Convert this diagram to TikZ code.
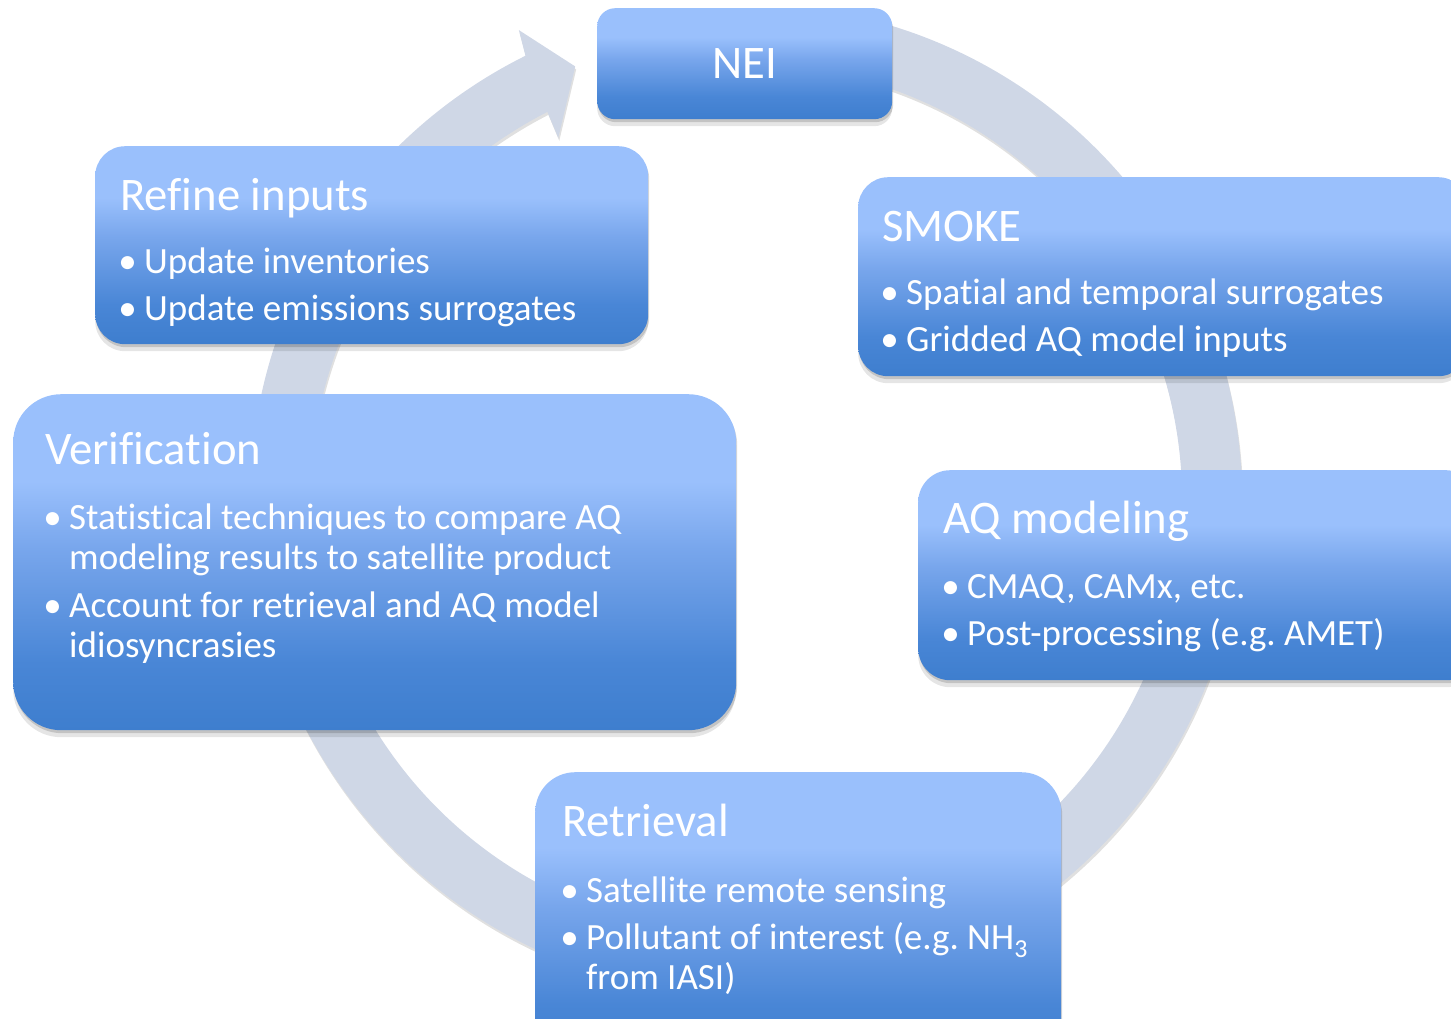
\documentclass[tikz,border=0pt]{standalone}
\usepackage{fontspec}
\setmainfont{Carlito}[Ligatures={NoCommon,NoContextual}, Contextuals=NoAlternate]
\usetikzlibrary{calc,shadows}
\definecolor{bandcol}{HTML}{CFD7E6}
\definecolor{boxtop}{HTML}{9AC0FC}
\definecolor{boxmid}{HTML}{78A6EC}
\definecolor{boxlow}{HTML}{4986D6}
\definecolor{boxbot}{HTML}{3E7ECE}
\pgfdeclareverticalshading{boxshade}{100bp}{color(0bp)=(boxbot); color(25bp)=(boxbot); color(35bp)=(boxlow); color(52bp)=(boxmid); color(62bp)=(boxtop); color(100bp)=(boxtop)}
\newcommand{\bul}[1]{\makebox[15pt][c]{\textbullet}\hspace{9pt}\begin{tabular}[t]{@{}l@{}}#1\end{tabular}}
\frenchspacing

\begin{document}
\begin{tikzpicture}[x=1pt, y=-1pt,
  softshadow/.style={drop shadow={shadow xshift=0pt, shadow yshift=-7pt, opacity=0.10, fill=black},
                     drop shadow={shadow xshift=1pt, shadow yshift=-3pt, opacity=0.15, fill=black}},
  box/.style={rounded corners=#1, shading=boxshade, anchor=north west, inner sep=0pt, softshadow},
  box/.default=30,
  head/.style={anchor=base west, inner sep=0pt, text=white, font=\fontsize{46.7}{50}\selectfont},
  item/.style={anchor=base west, inner sep=0pt, text=white, font=\fontsize{37}{40}\selectfont}]
\useasboundingbox (0,0) rectangle (1451,1018);
\coordinate (c) at (746,500);
\fill[bandcol, drop shadow={shadow xshift=1pt, shadow yshift=-3pt, opacity=0.12, fill=black}]
  ($(c)+(-80:496)$) arc[start angle=-80, end angle=243.6, radius=496]
  -- ($(c)+(244.2:522)$) -- ($(c)+(248.5:466)$) -- ($(c)+(242.6:408)$)
  -- ($(c)+(242.9:436)$) arc[start angle=242.9, end angle=-80, radius=436] -- cycle;

\node[box=18, minimum width=295pt, minimum height=111pt, text=white,
  font=\fontsize{46.7}{50}\selectfont] (nei) at (597,8) {NEI};

\node[box=30, minimum width=553pt, minimum height=198pt] (refine) at (95,146) {};
\node[head] (refine-t) at ($(refine.north west)+(25,64)$) {Refine inputs};
\node[item] (refine-1) at ($(refine.north west)+(25,127)$) {\bul{Update inventories}};
\node[item] (refine-2) at ($(refine.north west)+(25,174)$) {\bul{Update emissions surrogates}};

\node[box=30, minimum width=610pt, minimum height=199pt] (smoke) at (858,177) {};
\node[head] (smoke-t) at ($(smoke.north west)+(24,64)$) {SMOKE};
\node[item] (smoke-1) at ($(smoke.north west)+(24,127)$) {\bul{Spatial and temporal surrogates}};
\node[item] (smoke-2) at ($(smoke.north west)+(24,174)$) {\bul{Gridded AQ model inputs}};

\node[box=48, minimum width=723pt, minimum height=336pt] (verif) at (13,394) {};
\node[head] (verif-t) at ($(verif.north west)+(32,70)$) {Verification};
\node[item] (verif-1) at ($(verif.north west)+(32,135)$) {\bul{Statistical techniques to compare AQ\\modeling results to satellite product}};
\node[item] (verif-2) at ($(verif.north west)+(32,223)$) {\bul{Account for retrieval and AQ model\\idiosyncrasies}};

\node[box=32, minimum width=560pt, minimum height=210pt] (aq) at (918,470) {};
\node[head] (aq-t) at ($(aq.north west)+(25,63)$) {AQ modeling};
\node[item] (aq-1) at ($(aq.north west)+(25,128)$) {\bul{CMAQ, CAMx, etc.}};
\node[item] (aq-2) at ($(aq.north west)+(25,175)$) {\bul{Post-processing (e.g. AMET)}};

\node[box=40, minimum width=526pt, minimum height=290pt] (retr) at (535,772) {};
\node[head] (retr-t) at ($(retr.north west)+(27,64)$) {Retrieval};
\node[item] (retr-1) at ($(retr.north west)+(27,130)$) {\bul{Satellite remote sensing}};
\node[item] (retr-2) at ($(retr.north west)+(27,177)$) {\bul{Pollutant of interest (e.g. NH\textsubscript{3}\\from IASI)}};
\end{tikzpicture}
\end{document}
